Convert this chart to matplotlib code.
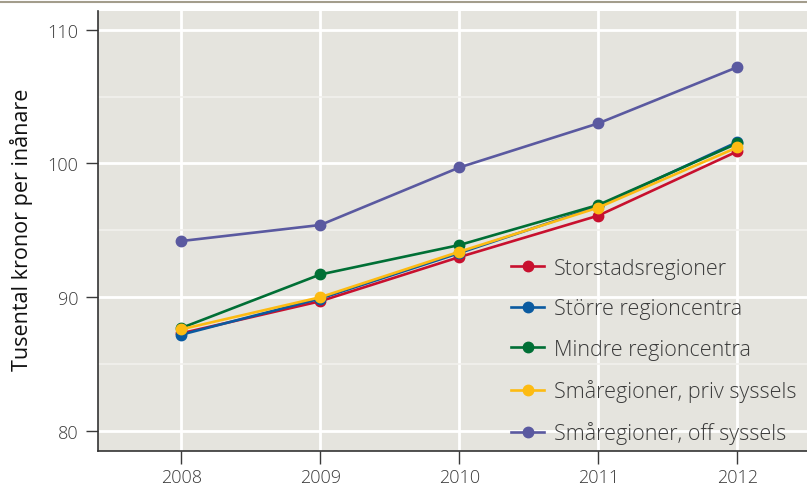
import matplotlib.pyplot as plt
from matplotlib.lines import Line2D

years = [2008, 2009, 2010, 2011, 2012]

storstad = [87.3, 89.7, 93.0, 96.1, 100.9]
storre = [87.2, 89.9, 93.3, 96.8, 101.6]
mindre = [87.7, 91.7, 93.9, 96.9, 101.5]
sma_priv = [87.6, 90.0, 93.4, 96.7, 101.2]
sma_off = [94.2, 95.4, 99.7, 103.0, 107.2]

labels = ['Storstadsregioner', 'Större regioncentra', 'Mindre regioncentra',
          'Småregioner, priv syssels', 'Småregioner, off syssels']
colors = ['#C8102E', '#0A5AA0', '#006F35', '#FDBB12', '#5A59A0']

plt.rcParams['font.family'] = ['Open Sans', 'DejaVu Sans']
plt.rcParams['font.weight'] = 'light'
txt = '#3a3a3a'
W, H = 807, 489

fig = plt.figure(figsize=(W / 100, H / 100), dpi=100)
ax = fig.add_axes([98 / W, 37 / H, 1 - 98 / W + 0.01, (452 - 12) / H])
ax.set_facecolor('#E5E4DE')

# top rule
fig.add_artist(Line2D([0, 1], [1 - 2.5 / H, 1 - 2.5 / H], color='#A39D8C', lw=1.5))

series = [storstad, storre, mindre, sma_priv, sma_off]
order = [4, 0, 1, 2, 3]
handles = [None] * 5
for i in order:
    h, = ax.plot(years, series[i], color=colors[i], lw=1.9, marker='o',
                 markersize=7.5, label=labels[i], zorder=3 + i)
    handles[i] = h

ax.set_xlim(2007.40, 2012.56)
ax.set_ylim(78.5, 111.4)
ax.set_xticks(years)
ax.set_yticks([80, 90, 100, 110])
ax.set_yticks([85, 95, 105], minor=True)
ax.grid(True, which='major', color='white', lw=2)
ax.grid(True, which='minor', axis='y', color='#F2F1ED', lw=1.2)
ax.set_axisbelow(True)

for s in ['top', 'right']:
    ax.spines[s].set_visible(False)
for s in ['left', 'bottom']:
    ax.spines[s].set_color('#333333')
    ax.spines[s].set_linewidth(1.2)

ax.tick_params(axis='both', which='major', labelsize=13, colors=txt,
               length=9, width=1, pad=5)
ax.tick_params(axis='y', which='minor', length=0)
ax.tick_params(axis='x', pad=3)

ax.set_ylabel('Tusental kronor per inånare', fontsize=15.5, color='#111111',
              fontweight='normal')
ax.yaxis.set_label_coords(-64 / (W - 98), 0.505)

leg = ax.legend(handles=handles, loc='upper left',
                bbox_to_anchor=(511 / W, 1 - 259 / H), bbox_transform=fig.transFigure,
                frameon=False, fontsize=15.5, labelspacing=0.9, handlelength=1.55,
                handletextpad=0.45, borderpad=0, borderaxespad=0)
for t in leg.get_texts():
    t.set_color(txt)

fig.savefig('out.png', dpi=100)
